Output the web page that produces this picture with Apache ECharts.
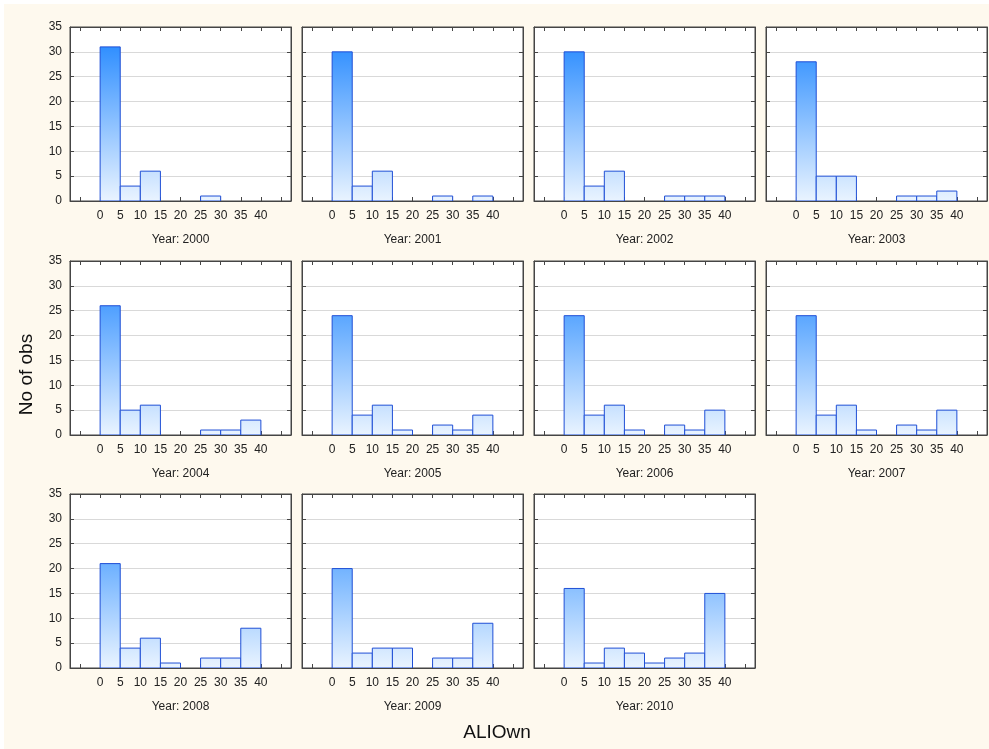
<!DOCTYPE html>
<html>
<head>
<meta charset="utf-8">
<script src="https://cdn.jsdelivr.net/npm/echarts@6/dist/echarts.min.js"></script>
<style>
  html, body { margin: 0; padding: 0; background: #ffffff; }
  #bg { position: absolute; left: 4px; top: 4px; width: 985px; height: 745px; background: #fef9ee; }
  #chart { position: absolute; left: 0; top: 0; width: 989px; height: 749px; }
</style>
</head>
<body>
<div id="bg"></div>
<div id="chart"></div>
<script>
// Histogram bins of ALIOwn (lower edges, width 5)
const binStarts = [0, 5, 10, 15, 20, 25, 30, 35];
const binWidth = 5;

const years = ['2000', '2001', '2002', '2003', '2004', '2005',
               '2006', '2007', '2008', '2009', '2010'];

// Counts per bin, one array per year
const obs2000 = [31, 3, 6, 0, 0, 1, 0, 0];
const obs2001 = [30, 3, 6, 0, 0, 1, 0, 1];
const obs2002 = [30, 3, 6, 0, 0, 1, 1, 1];
const obs2003 = [28, 5, 5, 0, 0, 1, 1, 2];
const obs2004 = [26, 5, 6, 0, 0, 1, 1, 3];
const obs2005 = [24, 4, 6, 1, 0, 2, 1, 4];
const obs2006 = [24, 4, 6, 1, 0, 2, 1, 5];
const obs2007 = [24, 4, 6, 1, 0, 2, 1, 5];
const obs2008 = [21, 4, 6, 1, 0, 2, 2, 8];
const obs2009 = [20, 3, 4, 4, 0, 2, 2, 9];
const obs2010 = [16, 1, 4, 3, 1, 2, 3, 15];
const counts = [obs2000, obs2001, obs2002, obs2003, obs2004, obs2005,
                obs2006, obs2007, obs2008, obs2009, obs2010];

// Axis ticks
const xTickValues = [-5, 0, 5, 10, 15, 20, 25, 30, 35, 40, 45];
const xLabelValues = [0, 5, 10, 15, 20, 25, 30, 35, 40];
const yMax = 35, yStep = 5;

// Panel layout (4 columns x 3 rows)
const colLeft = [70, 302, 534, 766];
const rowTop = [27, 261, 494];
const panelW = 221, panelH = 174;

const FONT = 'Liberation Sans, Arial, sans-serif';
const TEXT = '#222';
const FRAME = '#454545';

// Fill colour at the top of a bar blends from pale to saturated blue with height
const pale = [234, 244, 255], deep = [24, 130, 255];
function blend(v) {
  const t = Math.max(0, Math.min(1, v / yMax));
  const c = pale.map((p, i) => Math.round(p + (deep[i] - p) * t));
  return 'rgb(' + c.join(',') + ')';
}

const grids = [], xAxes = [], yAxes = [], series = [];

years.forEach((yr, i) => {
  const col = i % 4, row = Math.floor(i / 4);
  grids.push({
    left: colLeft[col], top: rowTop[row], width: panelW, height: panelH,
    show: true, backgroundColor: '#ffffff', borderColor: FRAME, borderWidth: 1
  });
  const xBase = {
    type: 'value', gridIndex: i, min: -7.5, max: 47.5,
    splitLine: { show: false },
    axisLine: { show: true, onZero: false, lineStyle: { color: FRAME, width: 1 } },
    axisTick: { show: true, inside: true, length: 4, customValues: xTickValues,
                lineStyle: { color: FRAME } }
  };
  // bottom axis with labels and the year caption
  xAxes.push(Object.assign({}, xBase, {
    position: 'bottom',
    name: 'Year: ' + yr, nameLocation: 'middle', nameGap: 33,
    nameTextStyle: { fontFamily: FONT, fontSize: 12, color: TEXT },
    axisLabel: { show: true, customValues: xLabelValues, margin: 9,
                 fontFamily: FONT, fontSize: 12, color: TEXT }
  }));
  // top axis: ticks only
  xAxes.push(Object.assign({}, xBase, {
    position: 'top', axisLabel: { show: false }
  }));
  const yBase = {
    type: 'value', gridIndex: i, min: 0, max: yMax, interval: yStep,
    axisLine: { show: true, onZero: false, lineStyle: { color: FRAME, width: 1 } },
    axisTick: { show: true, inside: true, length: 4, lineStyle: { color: FRAME } }
  };
  yAxes.push(Object.assign({}, yBase, {
    position: 'left',
    splitLine: { show: true, lineStyle: { color: '#d9d9d9', width: 1 } },
    axisLabel: { show: col === 0, margin: 8, fontFamily: FONT, fontSize: 12, color: TEXT }
  }));
  yAxes.push(Object.assign({}, yBase, {
    position: 'right', splitLine: { show: false }, axisLabel: { show: false }
  }));

  const data = binStarts.map((s, k) => [s, counts[i][k]]);
  series.push({
    type: 'custom',
    xAxisIndex: i * 2, yAxisIndex: i * 2,
    data: data,
    encode: { x: 0, y: 1 },
    clip: true,
    renderItem: function (params, api) {
      const x0 = api.value(0), v = api.value(1);
      if (!v) return null;
      const p1 = api.coord([x0, v]);
      const p2 = api.coord([x0 + binWidth, 0]);
      return {
        type: 'rect',
        shape: { x: p1[0], y: p1[1], width: p2[0] - p1[0], height: p2[1] - p1[1] },
        style: {
          fill: new echarts.graphic.LinearGradient(0, 0, 0, 1, [
            { offset: 0, color: blend(v) },
            { offset: 1, color: 'rgb(234,244,255)' }
          ]),
          stroke: '#1f4fd6',
          lineWidth: 1
        }
      };
    }
  });
});

const chart = echarts.init(document.getElementById('chart'), null, { renderer: 'canvas' });
chart.setOption({
  animation: false,
  backgroundColor: 'transparent',
  grid: grids,
  xAxis: xAxes,
  yAxis: yAxes,
  series: series,
  graphic: [
    {
      type: 'text', left: 17, top: 'middle',
      rotation: Math.PI / 2,
      style: { text: 'No of obs', fontFamily: FONT, fontSize: 19, fill: '#111' },
      x: 18, y: 362, originX: 0, originY: 0
    },
    {
      type: 'text',
      style: { text: 'ALIOwn', fontFamily: FONT, fontSize: 19, fill: '#111',
               align: 'center', verticalAlign: 'middle' },
      x: 497, y: 733
    }
  ]
});
</script>
</body>
</html>
